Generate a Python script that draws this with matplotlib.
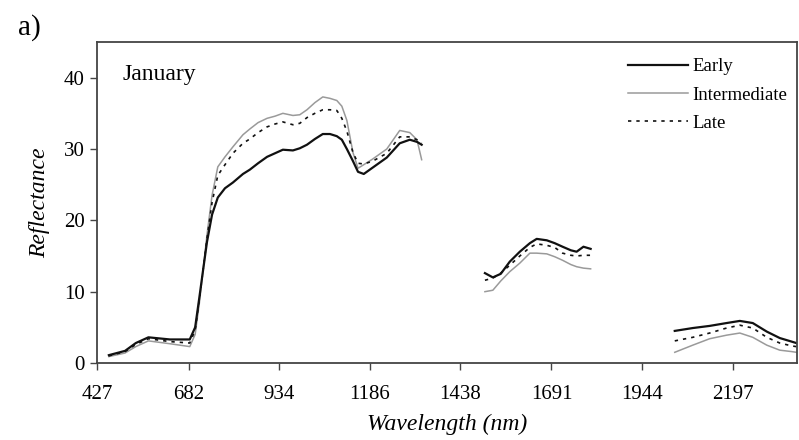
import matplotlib
matplotlib.use("Agg")
import matplotlib.pyplot as plt
import numpy as np

plt.rcParams["font.family"] = ["Liberation Serif", "DejaVu Serif"]

# --- data (wavelength nm / reflectance %) ---
wl_vis = [460, 505, 535, 570, 630, 685, 700, 712, 722, 733, 747, 763, 783,
          805, 833, 852, 875, 900, 922, 944, 972, 991, 1011, 1033, 1055,
          1075, 1094, 1108, 1122, 1139, 1153, 1169, 1194, 1233, 1269, 1297,
          1317, 1330]
early_vis = [1.1, 1.7, 2.8, 3.6, 3.3, 3.3, 5.0, 9.3, 13.0, 17.0, 20.8, 23.2,
             24.5, 25.3, 26.5, 27.1, 28.0, 28.9, 29.4, 29.9, 29.8, 30.1, 30.6,
             31.4, 32.1, 32.1, 31.8, 31.3, 30.0, 28.3, 26.8, 26.5, 27.4, 28.8,
             30.8, 31.3, 31.0, 30.6]
inter_vis = [0.9, 1.4, 2.3, 3.1, 2.7, 2.3, 4.0, 8.5, 13.0, 18.0, 23.5, 27.5,
             28.9, 30.3, 32.0, 32.8, 33.7, 34.3, 34.6, 35.0, 34.7, 34.8, 35.5,
             36.5, 37.3, 37.1, 36.8, 36.0, 34.0, 29.5, 27.3, 27.8, 28.6, 30.0,
             32.6, 32.3, 31.3, 28.5]
late_vis = [1.0, 1.6, 2.6, 3.4, 3.0, 2.8, 4.6, 9.0, 13.0, 17.5, 22.5, 26.3,
            27.8, 29.4, 30.8, 31.4, 32.3, 33.1, 33.5, 33.8, 33.4, 33.6, 34.4,
            35.0, 35.5, 35.5, 35.4, 34.3, 32.5, 29.5, 28.0, 27.9, 28.3, 29.4,
            31.7, 31.7, 31.3, 30.8]

wl_swir1 = [1506, 1528, 1550, 1575, 1603, 1631, 1650, 1678, 1700, 1722, 1745,
            1761, 1780, 1800]
early_swir1 = [12.6, 12.0, 12.5, 14.2, 15.6, 16.8, 17.4, 17.2, 16.8, 16.3,
               15.8, 15.6, 16.3, 16.0]
inter_swir1 = [10.0, 10.2, 11.5, 12.8, 14.0, 15.4, 15.4, 15.3, 14.9, 14.4,
               13.8, 13.5, 13.3, 13.2]
late_swir1 = [11.6, 11.9, 12.6, 13.7, 15.0, 16.2, 16.7, 16.5, 16.2, 15.4,
              15.1, 15.0, 15.1, 15.1]

wl_swir2 = [2034, 2084, 2131, 2178, 2215, 2251, 2290, 2326, 2359, 2372]
early_swir2 = [4.5, 4.9, 5.2, 5.6, 5.9, 5.6, 4.4, 3.5, 3.0, 2.8]
inter_swir2 = [1.5, 2.5, 3.4, 3.9, 4.2, 3.6, 2.5, 1.8, 1.6, 1.5]
late_swir2 = [3.1, 3.6, 4.2, 4.9, 5.3, 4.9, 3.6, 2.8, 2.4, 2.3]

x_ticks = [427, 682, 934, 1186, 1438, 1691, 1944, 2197]
y_ticks = [0, 10, 20, 30, 40]

segments = [
    (wl_vis, early_vis, inter_vis, late_vis),
    (wl_swir1, early_swir1, inter_swir1, late_swir1),
    (wl_swir2, early_swir2, inter_swir2, late_swir2),
]

styles = {
    "Early": dict(color="#111111", linewidth=1.6, linestyle="-"),
    "Intermediate": dict(color="#9a9a9a", linewidth=1.1, linestyle="-"),
    "Late": dict(color="#111111", linewidth=1.2, linestyle=(0, (2, 3))),
}

fig = plt.figure(figsize=(7.99, 4.40), dpi=100)
ax = fig.add_axes([97 / 799, 1 - 363 / 440, 700 / 799, 321 / 440])

# Intermediate unten, Early oben zeichnen
for k, (wl, e, i, l) in enumerate(segments):
    for name, vals in (("Intermediate", i), ("Late", l), ("Early", e)):
        ax.plot(wl, vals, label=name if k == 0 else None, **styles[name])

ax.set_xlim(427, 2374)
ax.set_ylim(0, 45)
ax.set_xticks(x_ticks)
ax.set_yticks(y_ticks)
ax.tick_params(direction="out", length=5, width=1.0, color="#444444",
               labelsize=15, pad=4)
ax.tick_params(axis="x", pad=11)
for sp in ax.spines.values():
    sp.set_color("#444444")
    sp.set_linewidth(1.3)

ax.set_xlabel("Wavelength (nm)", fontsize=17, style="italic", labelpad=7)
ax.set_ylabel("Reflectance", fontsize=17, style="italic", labelpad=10)

ax.text(0.037, 0.93, "January", transform=ax.transAxes, fontsize=17,
        va="top", ha="left")
fig.text(0.022, 0.968, "a)", fontsize=21, va="top", ha="left")

handles, labels = ax.get_legend_handles_labels()
order = ["Early", "Intermediate", "Late"]
hmap = dict(zip(labels, handles))
ax.legend([hmap[n] for n in order], order, loc="upper left",
          bbox_to_anchor=(0.758, 0.95), frameon=False, fontsize=13.5,
          handlelength=3.2, handletextpad=0.25, labelspacing=0.6,
          borderpad=0, borderaxespad=0)

fig.savefig("out.png", dpi=100)
